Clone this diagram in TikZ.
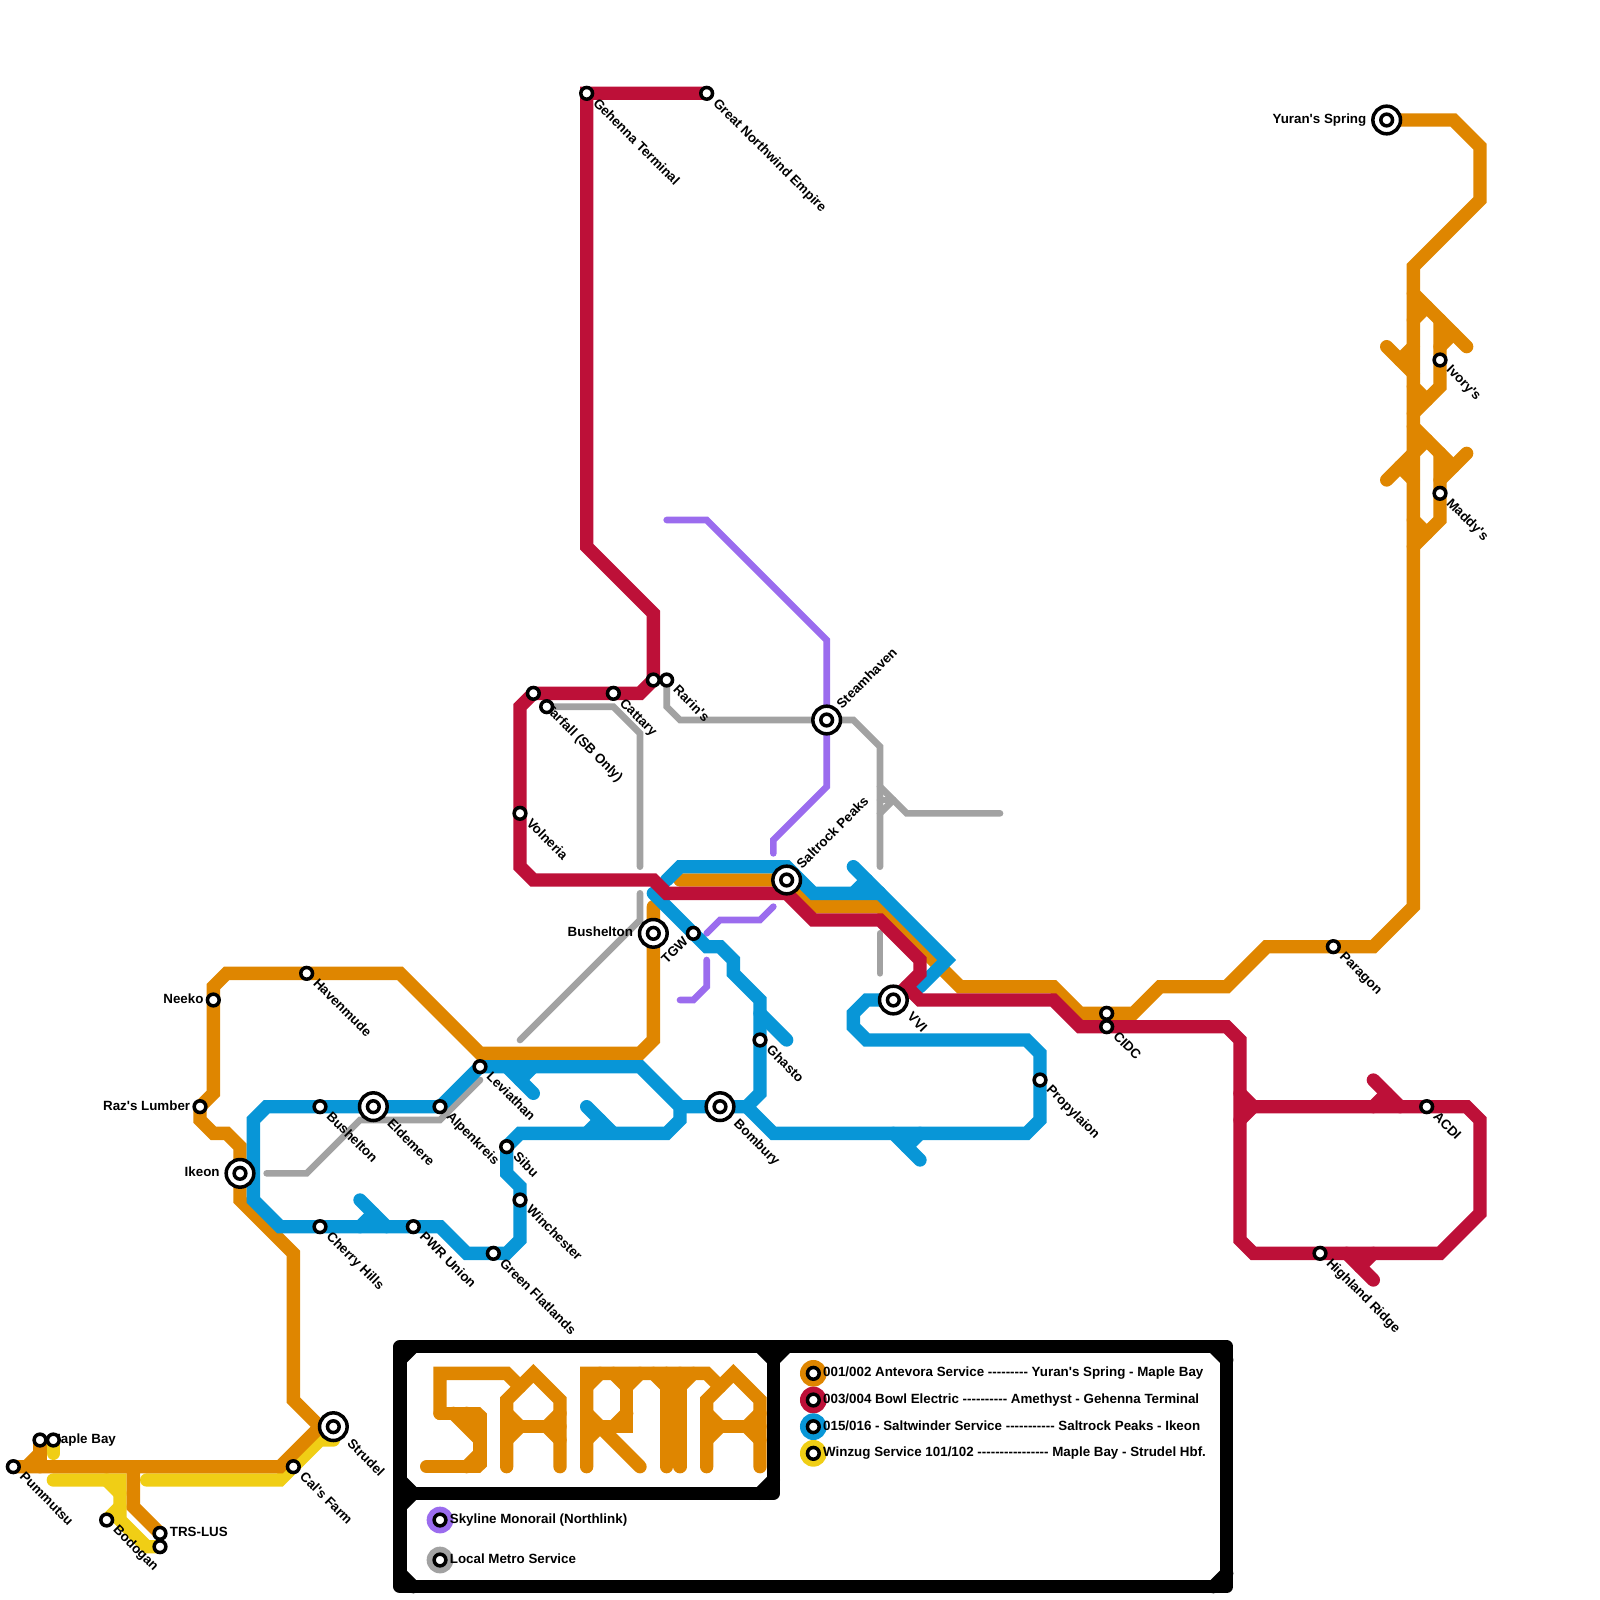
\documentclass[tikz,border=0pt]{standalone}
\usepackage{fontspec}
\usepackage{tikz}
\usetikzlibrary{positioning,calc}
\newfontfamily\mapfont{Liberation Sans}
\definecolor{lineorange}{HTML}{DF8600}
\definecolor{linered}{HTML}{BD1038}
\definecolor{lineblue}{HTML}{0896D7}
\definecolor{lineyellow}{HTML}{F0CE15}
\definecolor{linegray}{HTML}{A2A2A2}
\definecolor{linepurple}{HTML}{9B6CEE}
\pgfdeclarelayer{lines}
\pgfdeclarelayer{labels}
\pgfsetlayers{lines,labels,main}
\tikzset{
  stn/.style={circle,draw=black,fill=white,line width=1.5pt,inner sep=0pt,outer sep=0pt,minimum size=5pt},
  bigstn/.style={stn,minimum size=11.8pt,path picture={\draw[line width=1.5pt] (path picture bounding box.center) circle (2.5pt);}},
  metro/.style={line width=5.69pt,line cap=round},
  thin metro/.style={line width=2.85pt,line cap=round},
  frameline/.style={line width=5.69pt,black,line cap=round,line join=round},
  lbl/.style={inner sep=0pt,text height=4.1pt,text depth=1.2pt,font=\mapfont\bfseries\fontsize{5.7}{7}\selectfont},
  lblse/.style={lbl,rotate=-45,anchor=west,xshift=4.8pt},
  lblne/.style={lbl,rotate=45,anchor=west,xshift=7.7pt},
  lblsw/.style={lbl,rotate=45,anchor=east,xshift=-4pt},
  lblw/.style={lbl,anchor=east,xshift=-4pt},
  lble/.style={lbl,anchor=west,xshift=4pt},
  legdot/.style={circle,minimum size=11.4pt,inner sep=0pt},
}
\begin{document}
\begin{tikzpicture}[x=0.2cm,y=-0.2cm]
    \useasboundingbox (0,0) rectangle (120,120);
    % stations
    \node[stn] (gehenna) at (44,7) {};
    \node[stn] (northwind) at (53,7) {};
    \node[bigstn] (yuran) at (104,9) {};
    \node[stn] (ivory) at (108,27) {};
    \node[stn] (maddy) at (108,37) {};
    \node[stn] (paragon) at (100,71) {};
    \node[stn] (cidctop) at (83,76) {};
    \node[stn] (cidc) at (83,77) {};
    \node[stn] (propylaion) at (78,81) {};
    \node[stn] (acdi) at (107,83) {};
    \node[stn] (highland) at (99,94) {};
    \node[stn] (redend) at (49,51) {};
    \node[stn] (rarin) at (50,51) {};
    \node[stn] (redtop) at (40,52) {};
    \node[stn] (cattary) at (46,52) {};
    \node[stn] (tarfall) at (41,53) {};
    \node[bigstn] (steamhaven) at (62,54) {};
    \node[stn] (volneria) at (39,61) {};
    \node[bigstn] (saltrock) at (59,66) {};
    \node[bigstn] (busheltonb) at (49,70) {};
    \node[stn] (tgw) at (52,70) {};
    \node[bigstn] (vvi) at (67,75) {};
    \node[stn] (ghasto) at (57,78) {};
    \node[bigstn] (bombury) at (54,83) {};
    \node[stn] (leviathan) at (36,80) {};
    \node[stn] (alpenkreis) at (33,83) {};
    \node[bigstn] (eldemere) at (28,83) {};
    \node[stn] (bushelton) at (24,83) {};
    \node[stn] (sibu) at (38,86) {};
    \node[stn] (winchester) at (39,90) {};
    \node[stn] (pwr) at (31,92) {};
    \node[stn] (cherry) at (24,92) {};
    \node[stn] (flatlands) at (37,94) {};
    \node[stn] (havenmude) at (23,73) {};
    \node[stn] (neeko) at (16,75) {};
    \node[stn] (raz) at (15,83) {};
    \node[bigstn] (ikeon) at (18,88) {};
    \node[bigstn] (strudel) at (25,107) {};
    \node[stn] (mapleo) at (3,108) {};
    \node[stn] (mapley) at (4,108) {};
    \node[stn] (pummutsu) at (1,110) {};
    \node[stn] (cals) at (22,110) {};
    \node[stn] (bodogan) at (8,114) {};
    \node[stn] (trsluso) at (12,115) {};
    \node[stn] (trsy) at (12,116) {};
    % labels
    \begin{pgfonlayer}{labels}
    \node[lblse] (lgehenna) at (gehenna) {Gehenna Terminal};
    \node[lblse] (lnorthwind) at (northwind) {Great Northwind Empire};
    \node[lblw] (lyuran) at (yuran) [xshift=-4.5pt] {Yuran's Spring};
    \node[lblse] (livory) at (ivory) {Ivory's};
    \node[lblse] (lmaddy) at (maddy) {Maddy's};
    \node[lblse] (lparagon) at (paragon) {Paragon};
    \node[lblse] (lcidc) at (cidc) {CIDC};
    \node[lblse] (lpropylaion) at (propylaion) {Propylaion};
    \node[lblse] (lacdi) at (acdi) {ACDI};
    \node[lblse] (lhighland) at (highland) {Highland Ridge};
    \node[lblse] (lrarin) at (rarin) {Rarin's};
    \node[lblse] (lcattary) at (cattary) {Cattary};
    \node[lblse] (ltarfall) at (tarfall) [xshift=-5pt] {Tarfall (SB Only)};
    \node[lblne] (lsteamhaven) at (steamhaven) {Steamhaven};
    \node[lblse] (lvolneria) at (volneria) {Volneria};
    \node[lblne] (lsaltrock) at (saltrock) {Saltrock Peaks};
    \node[lblw] (lbusheltonb) at (busheltonb) [xshift=-4.5pt] {Bushelton};
    \node[lblsw] (ltgw) at (tgw) {TGW};
    \node[lblse] (lvvi) at (vvi) [xshift=4.4pt] {VVI};
    \node[lblse] (lghasto) at (ghasto) {Ghasto};
    \node[lblse] (lbombury) at (bombury) [xshift=4.4pt] {Bombury};
    \node[lblse] (lleviathan) at (leviathan) {Leviathan};
    \node[lblse] (lalpenkreis) at (alpenkreis) {Alpenkreis};
    \node[lblse] (leldemere) at (eldemere) [xshift=4.4pt] {Eldemere};
    \node[lblse] (lbushelton) at (bushelton) {Bushelton};
    \node[lblse] (lsibu) at (sibu) {Sibu};
    \node[lblse] (lwinchester) at (winchester) {Winchester};
    \node[lblse] (lpwr) at (pwr) {PWR Union};
    \node[lblse] (lcherry) at (cherry) {Cherry Hills};
    \node[lblse] (lflatlands) at (flatlands) {Green Flatlands};
    \node[lblse] (lhavenmude) at (havenmude) {Havenmude};
    \node[lblw] (lneeko) at (neeko) {Neeko};
    \node[lblw] (lraz) at (raz) {Raz's Lumber};
    \node[lblw] (likeon) at (ikeon) [xshift=-4.5pt] {Ikeon};
    \node[lblse] (lstrudel) at (strudel) [xshift=4.4pt] {Strudel};
    \node[lble] (lmaple) at (mapley) [xshift=-5.7pt] {Maple Bay};
    \node[lblse] (lpummutsu) at (pummutsu) {Pummutsu};
    \node[lblse] (lcals) at (cals) {Cal's Farm};
    \node[lblse] (lbodogan) at (bodogan) {Bodogan};
    \node[lble] (ltrs) at (trsluso) {TRS-LUS};
    \end{pgfonlayer}
    \begin{pgfonlayer}{lines}
    % Winzug
    \draw[metro,lineyellow] (mapley.center)--(4,109);
    \draw[metro,lineyellow] (4,111)--(9,111)--(9,114)--(11,116)--(trsy.center);
    \draw[metro,lineyellow] (8,111)--(9,112);
    \draw[metro,lineyellow] (9,113)--(bodogan.center);
    \draw[metro,lineyellow] (11,111)--(21,111)--(24,108)--(25,108);
    % local metro
    \draw[thin metro,linegray] (tarfall.center)--(46,53)--(48,55)--(48,65);
    \draw[thin metro,linegray] (48,67)--(48,69)--(39,78);
    \draw[thin metro,linegray] (20,88)--(23,88)--(27,84)--(33,84)--(36,81);
    \draw[thin metro,linegray] (rarin.center)--(50,53)--(51,54)--(steamhaven.center)--(64,54)--(66,56)--(66,65);
    \draw[thin metro,linegray] (66,59)--(68,61)--(75,61);
    \draw[thin metro,linegray] (66,61)--(67,60);
    \draw[thin metro,linegray] (66,60)--(67,60);
    \draw[thin metro,linegray] (66,70)--(66,73);
    % monorail
    \draw[thin metro,linepurple] (50,39)--(53,39)--(62,48)--(steamhaven.center)--(62,59)--(58,63)--(58,64);
    \draw[thin metro,linepurple] (58,68)--(57,69)--(54,69)--(53,70);
    \draw[thin metro,linepurple] (53,72)--(53,74)--(52,75)--(51,75);
    % Antevora
    \draw[metro,lineorange] (yuran.center)--(109,9)--(111,11)--(111,15)--(106,20)--(106,68)--(103,71)--(95,71)--(92,74)--(87,74)--(85,76)--(81,76)--(79,74)--(72,74)--(66,68)--(61,68)--(saltrock.center)--(51,66);
    \draw[metro,lineorange] (49,68)--(busheltonb.center)--(49,78)--(48,79)--(36,79)--(30,73)--(17,73)--(16,74)--(16,82)--(raz.center)--(15,84)--(16,85)--(17,85)--(18,86)--(ikeon.center)--(18,90)--(22,94)--(22,105)--(24,107)--(strudel.center);
    \draw[metro,lineorange] (pummutsu.center)--(21,110)--(24,107);
    \draw[metro,lineorange] (mapleo.center)--(3,110);
    \draw[metro,lineorange] (2,110)--(3,109);
    \draw[metro,lineorange] (10,110)--(10,113)--(trsluso.center);
    \draw[metro,lineorange] (106,22)--(110,26);
    \draw[metro,lineorange] (108,24)--(ivory.center)--(108,29)--(106,31);
    \draw[metro,lineorange] (108,26)--(109,25);
    \draw[metro,lineorange] (104,26)--(106,28);
    \draw[metro,lineorange] (105,27)--(106,26);
    \draw[metro,lineorange] (106,24)--(107,23);
    \draw[metro,lineorange] (106,29)--(107,30);
    \draw[metro,lineorange] (106,32)--(109,35);
    \draw[metro,lineorange] (110,34)--(108,36);
    \draw[metro,lineorange] (108,34)--(maddy.center)--(108,39)--(106,41);
    \draw[metro,lineorange] (104,36)--(106,34);
    \draw[metro,lineorange] (105,35)--(106,36);
    \draw[metro,lineorange] (106,34)--(107,33);
    \draw[metro,lineorange] (106,39)--(107,40);
    % Saltwinder
    \draw[metro,lineblue] (50,66)--(51,65)--(59,65)--(61,67)--(66,67)--(71,72)--(69,74);
    \draw[metro,lineblue] (64,65)--(66,67);
    \draw[metro,lineblue] (64,67)--(65,66);
    \draw[metro,lineblue] (49,67)--(tgw.center)--(53,71)--(54,71)--(55,72)--(55,73)--(57,75)--(ghasto.center)--(57,82)--(56,83)--(bombury.center)--(51,83);
    \draw[metro,lineblue] (57,76)--(59,78);
    \draw[metro,lineblue] (vvi.center)--(65,75)--(64,76)--(64,77)--(65,78)--(77,78)--(78,79)--(propylaion.center)--(78,84)--(77,85)--(58,85)--(56,83);
    \draw[metro,lineblue] (67,85)--(69,87);
    \draw[metro,lineblue] (68,86)--(69,85);
    \draw[metro,lineblue] (leviathan.center)--(48,80)--(51,83)--(51,84)--(50,85)--(39,85)--(sibu.center)--(38,88)--(39,89)--(winchester.center)--(39,93)--(38,94)--(flatlands.center)--(35,94)--(33,92)--(pwr.center)--(cherry.center)--(21,92)--(19,90)--(19,84)--(20,83)--(bushelton.center)--(eldemere.center)--(alpenkreis.center)--(leviathan.center);
    \draw[metro,lineblue] (38,80)--(40,82);
    \draw[metro,lineblue] (39,81)--(40,80);
    \draw[metro,lineblue] (44,83)--(46,85);
    \draw[metro,lineblue] (44,85)--(45,84);
    \draw[metro,lineblue] (27,90)--(29,92);
    \draw[metro,lineblue] (27,92)--(28,91);
    % Bowl Electric
    \draw[metro,linered] (northwind.center)--(gehenna.center)--(44,41)--(49,46)--(redend.center)--(48,52)--(cattary.center)--(redtop.center)--(39,53)--(volneria.center)--(39,65)--(40,66)--(49,66)--(50,67)--(59,67)--(61,69)--(66,69)--(69,72)--(69,73)--(vvi.center);
    \draw[metro,linered] (68,74)--(69,75)--(79,75)--(81,77)--(cidc.center)--(92,77)--(93,78)--(93,93)--(94,94)--(highland.center)--(108,94)--(111,91)--(111,84)--(110,83)--(acdi.center)--(94,83);
    \draw[metro,linered] (93,82)--(94,83)--(93,84);
    \draw[metro,linered] (103,81)--(105,83);
    \draw[metro,linered] (103,83)--(104,82);
    \draw[metro,linered] (101,94)--(103,96);
    \draw[metro,linered] (102,95)--(103,94);
    % logo
    \draw[metro,lineorange] (33,106)--(33,103)--(38,103)--(39,104);
    \draw[metro,lineorange,line join=bevel] (33,106)--(36,106)--(36,110)--(32,110);
    \draw[metro,lineorange] (34,106)--(36,108);
    \draw[metro,lineorange] (35,106)--(36,107);
    \draw[metro,lineorange] (35,110)--(36,109);
    \draw[metro,lineorange] (38,110)--(38,105)--(40,103)--(42,105)--(42,110);
    \draw[metro,lineorange] (38,107)--(42,107);
    \draw[metro,lineorange] (38,106)--(39,107)--(38,108);
    \draw[metro,lineorange] (42,106)--(41,107)--(42,108);
    \draw[metro,lineorange] (44,110)--(44,103)--(53,103)--(54,104);
    \draw[metro,lineorange] (44,107)--(47,107)--(47,104);
    \draw[metro,lineorange] (45,107)--(48,110);
    \draw[metro,lineorange] (44,104)--(45,103);
    \draw[metro,lineorange] (46,103)--(47,104)--(48,103);
    \draw[metro,lineorange] (44,106)--(45,107)--(44,108);
    \draw[metro,lineorange] (47,106)--(46,107);
    \draw[metro,lineorange] (49,103)--(50,104);
    \draw[metro,lineorange] (51,104)--(52,103);
    \draw[metro,lineorange] (50,103)--(50,110);
    \draw[metro,lineorange] (51,103)--(51,110);
    \draw[metro,lineorange] (53,110)--(53,105)--(55,103)--(57,105)--(57,110);
    \draw[metro,lineorange] (53,107)--(57,107);
    \draw[metro,lineorange] (53,106)--(54,107)--(53,108);
    \draw[metro,lineorange] (57,106)--(56,107)--(57,108);
    % legend frame
    \draw[frameline] (30,101) rectangle (92,119);
    \draw[frameline] (30,112)--(58,112)--(58,101);
    \foreach \a/\b/\c/\d in {30/102/31/101,57/101/58/102,58/102/59/101,91/101/92/102,30/111/31/112,57/112/58/111,30/113/31/112,30/118/31/119,91/119/92/118}
      \draw[frameline] (\a,\b)--(\c,\d);
    \end{pgfonlayer}
    % legend
    \begin{pgfonlayer}{labels}
    \node[legdot,fill=lineorange] (legorange) at (61,103) {};
    \node[legdot,fill=linered] (legred) at (61,105) {};
    \node[legdot,fill=lineblue] (legblue) at (61,107) {};
    \node[legdot,fill=lineyellow] (legyellow) at (61,109) {};
    \node[legdot,fill=linepurple] (legpurple) at (33,114) {};
    \node[legdot,fill=linegray] (leggray) at (33,117) {};
    \end{pgfonlayer}
    \node[stn] (keyorange) at (legorange) {};
    \node[stn] (keyred) at (legred) {};
    \node[stn] (keyblue) at (legblue) {};
    \node[stn] (keyyellow) at (legyellow) {};
    \node[stn] (keypurple) at (legpurple) {};
    \node[stn] (keygray) at (leggray) {};
    \node[lble] (txtorange) at (keyorange) {001/002 Antevora Service --------- Yuran's Spring - Maple Bay};
    \node[lble] (txtred) at (keyred) {003/004 Bowl Electric ---------- Amethyst - Gehenna Terminal};
    \node[lble] (txtblue) at (keyblue) {015/016 - Saltwinder Service ----------- Saltrock Peaks - Ikeon};
    \node[lble] (txtyellow) at (keyyellow) {Winzug Service 101/102 ---------------- Maple Bay - Strudel Hbf.};
    \node[lble] (txtpurple) at (keypurple) {Skyline Monorail (Northlink)};
    \node[lble] (txtgray) at (keygray) {Local Metro Service};
  \end{tikzpicture}
\end{document}
